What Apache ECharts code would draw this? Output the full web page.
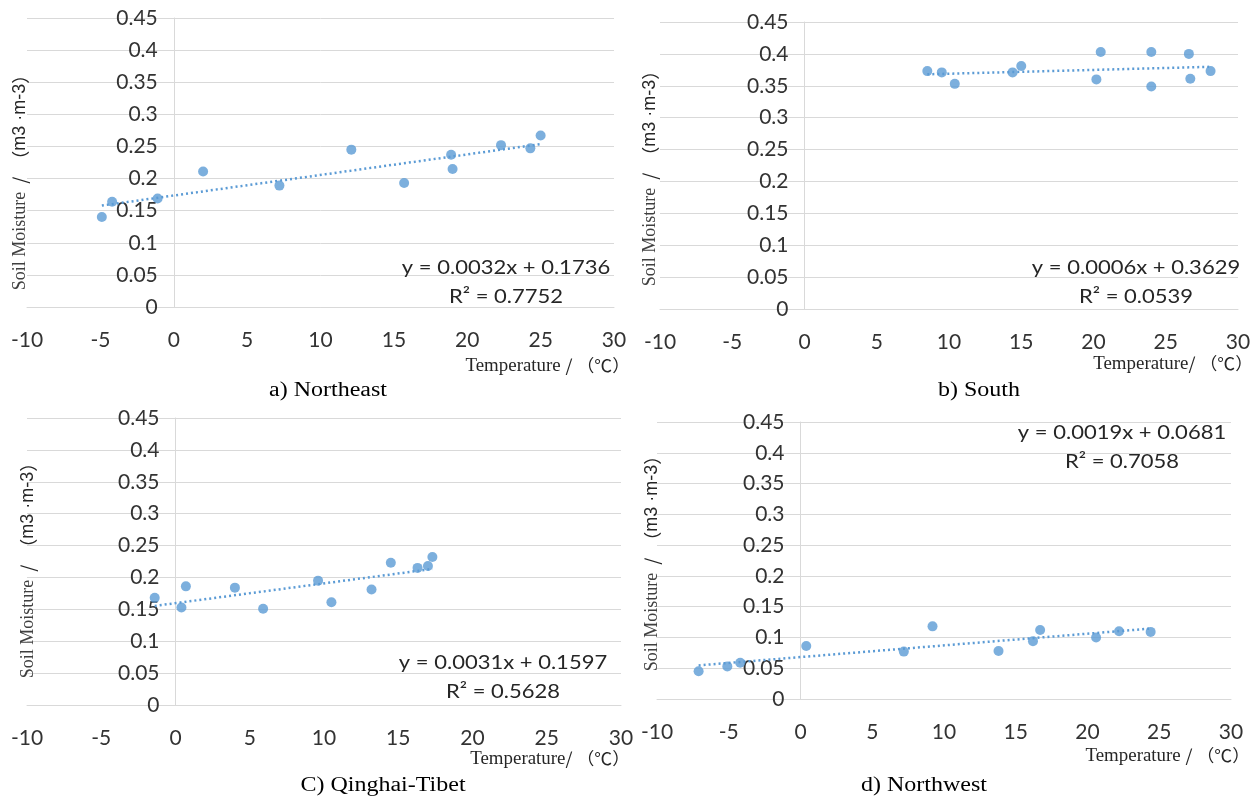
<!DOCTYPE html>
<html>
<head>
<meta charset="utf-8">
<script src="https://cdn.jsdelivr.net/npm/echarts@6/dist/echarts.min.js"></script>
<style>
  html, body { margin: 0; padding: 0; background: #fff; }
  #main { width: 1258px; height: 798px; }
</style>
</head>
<body>
<div id="main"></div>
<script>
// temperature (℃) and soil moisture (m3·m-3) per region
const tempNE = [-4.9, -4.2, -1.1, 2.0, 7.2, 12.1, 15.7, 18.9, 19.0, 22.3, 24.3, 25.0];
const moistNE = [0.140, 0.164, 0.169, 0.211, 0.189, 0.245, 0.193, 0.237, 0.215, 0.252, 0.247, 0.267];

const tempS = [8.5, 9.5, 10.4, 14.4, 15.0, 20.2, 20.5, 24.0, 24.0, 26.6, 26.7, 28.1];
const moistS = [0.373, 0.371, 0.353, 0.371, 0.381, 0.360, 0.403, 0.403, 0.349, 0.400, 0.361, 0.373];

const tempQT = [-1.4, 0.4, 0.7, 4.0, 5.9, 9.6, 10.5, 13.2, 14.5, 16.3, 17.0, 17.3];
const moistQT = [0.168, 0.153, 0.186, 0.184, 0.151, 0.195, 0.161, 0.181, 0.223, 0.215, 0.218, 0.232];

const tempNW = [-7.1, -5.1, -4.2, 0.4, 7.2, 9.2, 13.8, 16.2, 16.7, 20.6, 22.2, 24.4];
const moistNW = [0.045, 0.053, 0.059, 0.086, 0.077, 0.118, 0.078, 0.094, 0.112, 0.100, 0.110, 0.109];

// linear trend lines (from the figure)
const slopes = [0.0032, 0.0006, 0.0031, 0.0019];
const intercepts = [0.1736, 0.3629, 0.1597, 0.0681];
const rSquared = [0.7752, 0.0539, 0.5628, 0.7058];

const captions = ['a) Northeast', 'b) South', 'C) Qinghai-Tibet', 'd) Northwest'];
const xTitles = ['Temperature / （℃）', 'Temperature/ （℃）', 'Temperature/ （℃）', 'Temperature / （℃）'];

// axis ticks
const xMin = -10, xMax = 30, xStep = 5;
const yMin = 0, yMax = 0.45, yStep = 0.05;

const temps = [tempNE, tempS, tempQT, tempNW];
const moists = [moistNE, moistS, moistQT, moistNW];

// layout of the four panels
const grids = [
  {left: 27, top: 18, width: 587, height: 289},
  {left: 660, top: 22, width: 578, height: 287},
  {left: 27, top: 418, width: 594, height: 287},
  {left: 657, top: 422, width: 574, height: 277}
];
const eqPos = [[506, 282], [1136, 282], [503, 677], [1122, 447]];
const capPos = [[328, 391], [979, 391], [383, 786], [924, 786]];
const xTitlePos = [[630, 366], [1253, 364], [630, 759], [1250, 756]];
const yTitlePos = [[20, 178], [650, 174], [28, 566], [652, 559]];

const blue = '#5B9BD5';
const gridGray = '#D9D9D9';
const labelFont = 'Lato';
const labelColor = '#333';

var myChart = echarts.init(document.getElementById('main'));

let xAxes = [], yAxes = [], series = [], graphics = [];
for (let i = 0; i < 4; i++) {
  xAxes.push({
    type: 'value', gridIndex: i, min: xMin, max: xMax, interval: xStep,
    axisLine: {show: true, onZero: false, lineStyle: {color: gridGray}},
    axisTick: {show: false},
    splitLine: {show: false},
    axisLabel: {color: labelColor, fontSize: 21, fontFamily: labelFont, margin: 23}
  });
  // y axis sits at x = 0 (Excel style), so shift it into the grid
  const zeroShift = grids[i].width * (0 - xMin) / (xMax - xMin);
  yAxes.push({
    type: 'value', gridIndex: i, min: yMin, max: yMax, interval: yStep,
    offset: -zeroShift,
    axisLine: {show: true, onZero: false, lineStyle: {color: gridGray}},
    axisTick: {show: false},
    splitLine: {show: true, lineStyle: {color: gridGray}},
    axisLabel: {color: labelColor, fontSize: 21, fontFamily: labelFont, margin: 16}
  });

  const xs = temps[i], ys = moists[i];
  const lo = Math.min.apply(null, xs), hi = Math.max.apply(null, xs);
  series.push({
    type: 'line', xAxisIndex: i, yAxisIndex: i, symbol: 'none', silent: true,
    lineStyle: {color: blue, width: 2.5, type: [2, 3]},
    data: [[lo, slopes[i] * lo + intercepts[i]], [hi, slopes[i] * hi + intercepts[i]]],
    z: 2
  });
  series.push({
    type: 'scatter', xAxisIndex: i, yAxisIndex: i, symbolSize: 10,
    itemStyle: {color: blue},
    data: xs.map((x, k) => [x, ys[k]]),
    z: 3
  });

  // equation + R²
  graphics.push({
    type: 'text', x: eqPos[i][0], y: eqPos[i][1], z: 100, scaleX: 1.1,
    style: {
      text: 'y = ' + slopes[i].toFixed(4) + 'x + ' + intercepts[i].toFixed(4) + '\nR² = ' + rSquared[i].toFixed(4),
      fill: '#262626', font: '20px ' + labelFont, lineHeight: 29,
      textAlign: 'center', textVerticalAlign: 'middle'
    }
  });
  // caption
  graphics.push({
    type: 'text', x: capPos[i][0], y: capPos[i][1], z: 100, scaleX: 1.2,
    style: {
      text: captions[i], fill: '#000', font: '20px "Liberation Serif"',
      textAlign: 'center', textVerticalAlign: 'middle'
    }
  });
  // x axis title
  const xt = xTitles[i].split('/');
  graphics.push({
    type: 'text', x: xTitlePos[i][0], y: xTitlePos[i][1], z: 100, scaleX: 1.05,
    style: {
      text: '{a|' + xt[0] + '}{b|/' + xt[1] + '}',
      textAlign: 'right', textVerticalAlign: 'middle',
      rich: {
        a: {fontFamily: 'Liberation Serif', fontSize: 18, fill: '#262626'},
        b: {fontFamily: 'Noto Sans CJK SC', fontSize: 17, fill: '#262626'}
      }
    }
  });
  // y axis title
  graphics.push({
    type: 'text', x: yTitlePos[i][0], y: yTitlePos[i][1], rotation: Math.PI / 2, z: 100,
    style: {
      text: '{a|Soil Moisture}{b|  /  （}{c|m3 ·m-3}{b|）}',
      textAlign: 'center', textVerticalAlign: 'middle',
      rich: {
        a: {fontFamily: 'Liberation Serif', fontSize: 18, fill: '#404040'},
        b: {fontFamily: 'Noto Sans CJK SC', fontSize: 18, fill: '#262626'},
        c: {fontFamily: 'Liberation Sans', fontSize: 18, fill: '#262626'}
      }
    }
  });
}

let option = {
  animation: false,
  backgroundColor: '#fff',
  grid: grids,
  xAxis: xAxes,
  yAxis: yAxes,
  series: series,
  graphic: graphics
};
myChart.setOption(option);
window.addEventListener('resize', function () {
  myChart.resize();
});
</script>
</body>
</html>
